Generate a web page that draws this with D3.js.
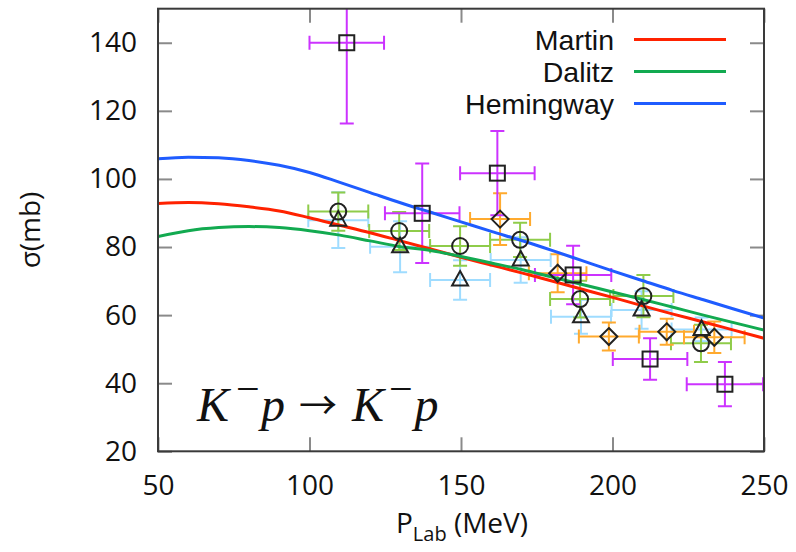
<!DOCTYPE html>
<html>
<head>
<meta charset="utf-8">
<script src="https://cdn.jsdelivr.net/npm/d3@7"></script>
<style>
  html, body { margin: 0; padding: 0; background: #fff; }
  svg { display: block; }
</style>
</head>
<body>
<svg id="chart" width="796" height="552" font-family="'Open Sans', 'Noto Sans', sans-serif"></svg>
<script>
// Axis ticks
const xTicks = [50, 100, 150, 200, 250];
const yTicks = [20, 40, 60, 80, 100, 120, 140];

// Model curves: lab momentum grid (MeV) and cross sections (mb)
const pGrid     = [50, 60, 70, 80, 90, 100, 110, 120, 130, 140, 150, 160, 170, 180, 190, 200, 210, 220, 230, 240, 250];
const martin    = [92.8, 93.1, 92.7, 91.8, 90.6, 88.6, 86.4, 84.2, 81.8, 79.4, 77.0, 74.7, 72.4, 70.0, 67.6, 65.2, 62.7, 60.3, 58.0, 55.6, 53.2];
const dalitz    = [83.1, 84.8, 85.7, 86.0, 85.7, 84.8, 83.5, 81.8, 80.1, 79.0, 77.2, 75.3, 73.4, 71.2, 69.0, 66.8, 64.6, 62.3, 60.0, 57.8, 55.6];
const hemingway = [105.9, 106.4, 106.2, 105.4, 104.0, 101.9, 99.0, 96.0, 93.0, 90.2, 87.4, 84.6, 81.9, 79.0, 76.0, 73.0, 70.1, 67.2, 64.5, 61.8, 59.1];
const curveNames  = ["Martin", "Dalitz", "Hemingway"];
const curveColors = ["#ff2200", "#12aa50", "#1f5cff"];

// Measurements (squares)
const sqX    = [112.3, 137.2, 162.0, 187.0, 212.4, 237.1];
const sqY    = [140.0, 89.9, 101.7, 71.8, 47.1, 39.7];
const sqXErr = [12.3, 12.3, 12.3, 12.6, 12.3, 12.6];
const sqYErr = [23.7, 14.6, 12.4, 8.6, 6.1, 6.5];

// Measurements (diamonds)
const diX    = [162.9, 181.9, 198.8, 217.9, 233.6];
const diY    = [88.2, 72.3, 53.7, 55.1, 53.5];
const diXErr = [9.9, 9.5, 9.9, 9.0, 10.0];
const diYErr = [7.6, 5.6, 4.1, 3.8, 4.6];

// Measurements (circles)
const ciX    = [109.5, 129.6, 149.7, 169.5, 189.3, 210.2, 229.2];
const ciY    = [90.4, 84.7, 80.3, 82.1, 64.7, 65.6, 51.7];
const ciXErr = [9.9, 9.9, 9.9, 9.9, 9.9, 9.9, 9.9];
const ciYErr = [5.6, 5.6, 5.8, 5.0, 5.4, 6.2, 5.5];

// Measurements (triangles)
const trX    = [109.5, 129.9, 149.7, 169.7, 189.6, 209.6, 229.4];
const trY    = [87.9, 80.1, 70.3, 76.2, 59.5, 61.5, 55.8];
const trXErr = [9.9, 9.9, 9.9, 9.9, 9.9, 9.9, 9.9];
const trYErr = [8.2, 7.5, 5.8, 6.7, 5.0, 5.5, 3.5];

const svg = d3.select("#chart");
const L = 158, R = 764, T = 8.7, B = 451.3;
const x = d3.scaleLinear().domain([50, 250]).range([L, R]);
const y = d3.scaleLinear().domain([20, 150]).range([B, T]);

svg.append("defs").append("clipPath").attr("id", "plotClip")
  .append("rect").attr("x", L).attr("y", T).attr("width", R - L).attr("height", B - T);

// Inward ticks on all four sides
const tickLen = 14;
const tickColor = "#8a8a8a";
const sansFont = "'Open Sans', 'Noto Sans', sans-serif";
const axes = svg.append("g");
axes.append("g").attr("transform", `translate(0,${B})`)
  .call(d3.axisBottom(x).tickValues(xTicks).tickSizeInner(-tickLen).tickSizeOuter(0).tickPadding(17))
  .call(g => g.select(".domain").remove())
  .call(g => g.selectAll("line").attr("stroke", tickColor).attr("stroke-width", 2))
  .call(g => g.selectAll("text").attr("font-size", 28).attr("fill", "#111")
    .attr("font-family", sansFont).attr("dy", "0.95em"));
axes.append("g").attr("transform", `translate(0,${T})`)
  .call(d3.axisTop(x).tickValues(xTicks).tickSizeInner(-tickLen).tickSizeOuter(0).tickFormat(""))
  .call(g => g.select(".domain").remove())
  .call(g => g.selectAll("line").attr("stroke", tickColor).attr("stroke-width", 2));
axes.append("g").attr("transform", `translate(${L},0)`)
  .call(d3.axisLeft(y).tickValues(yTicks).tickSizeInner(-tickLen).tickSizeOuter(0).tickPadding(21))
  .call(g => g.select(".domain").remove())
  .call(g => g.selectAll("line").attr("stroke", tickColor).attr("stroke-width", 2))
  .call(g => g.selectAll("text").attr("font-size", 28).attr("fill", "#111")
    .attr("font-family", sansFont));
axes.append("g").attr("transform", `translate(${R},0)`)
  .call(d3.axisRight(y).tickValues(yTicks).tickSizeInner(-tickLen).tickSizeOuter(0).tickFormat(""))
  .call(g => g.select(".domain").remove())
  .call(g => g.selectAll("line").attr("stroke", tickColor).attr("stroke-width", 2));

const plot = svg.append("g").attr("clip-path", "url(#plotClip)");

// Error bars
function errorBars(xs, ys, xe, ye, color) {
  const g = plot.append("g").attr("stroke", color).attr("stroke-width", 2).attr("fill", "none");
  const cap = 7;
  xs.forEach((xv, i) => {
    const cx = x(xv), cy = y(ys[i]);
    const x0 = x(xv - xe[i]), x1 = x(xv + xe[i]);
    const y0 = y(ys[i] - ye[i]), y1 = y(ys[i] + ye[i]);
    g.append("line").attr("x1", x0).attr("x2", x1).attr("y1", cy).attr("y2", cy);
    g.append("line").attr("x1", cx).attr("x2", cx).attr("y1", y0).attr("y2", y1);
    g.append("line").attr("x1", x0).attr("x2", x0).attr("y1", cy - cap).attr("y2", cy + cap);
    g.append("line").attr("x1", x1).attr("x2", x1).attr("y1", cy - cap).attr("y2", cy + cap);
    g.append("line").attr("x1", cx - cap).attr("x2", cx + cap).attr("y1", y0).attr("y2", y0);
    g.append("line").attr("x1", cx - cap).attr("x2", cx + cap).attr("y1", y1).attr("y2", y1);
  });
}
errorBars(trX, trY, trXErr, trYErr, "#9fdcff");
errorBars(ciX, ciY, ciXErr, ciYErr, "#8fcc4a");
errorBars(diX, diY, diXErr, diYErr, "#ffaa2e");
errorBars(sqX, sqY, sqXErr, sqYErr, "#cc33ff");

// Model curves
const series = [martin, dalitz, hemingway];
const line = d3.line().x(d => x(d[0])).y(d => y(d[1])).curve(d3.curveMonotoneX);
series.forEach((vals, k) => {
  plot.append("path")
    .datum(pGrid.map((p, i) => [p, vals[i]]))
    .attr("d", line)
    .attr("fill", "none")
    .attr("stroke", curveColors[k])
    .attr("stroke-width", 3);
});

// Point markers
function markers(xs, ys, type) {
  const g = plot.append("g").attr("stroke", "#222").attr("stroke-width", 2).attr("fill", "none");
  xs.forEach((xv, i) => {
    const cx = x(xv), cy = y(ys[i]);
    if (type === "square") {
      g.append("rect").attr("x", cx - 7.5).attr("y", cy - 7.5).attr("width", 15).attr("height", 15);
    } else if (type === "circle") {
      g.append("circle").attr("cx", cx).attr("cy", cy).attr("r", 8);
    } else if (type === "diamond") {
      g.append("path").attr("d", `M${cx},${cy - 8.5}L${cx + 8.5},${cy}L${cx},${cy + 8.5}L${cx - 8.5},${cy}Z`);
    } else {
      g.append("path").attr("d", `M${cx},${cy - 9}L${cx + 8},${cy + 5.5}L${cx - 8},${cy + 5.5}Z`);
    }
  });
}
markers(trX, trY, "triangle");
markers(ciX, ciY, "circle");
markers(diX, diY, "diamond");
markers(sqX, sqY, "square");

// Frame
svg.append("rect").attr("x", L).attr("y", T).attr("width", R - L).attr("height", B - T)
  .attr("fill", "none").attr("stroke", "#3a3a3a").attr("stroke-width", 2);

// Legend (compact-metric face so the stacked labels keep clear of each other)
const legend = svg.append("g");
curveNames.forEach((name, k) => {
  const ly = 39.5 + k * 32;
  legend.append("text").attr("x", 614).attr("y", ly).attr("dy", "0.36em")
    .attr("text-anchor", "end").attr("font-size", 28.5).attr("fill", "#111")
    .attr("font-family", "'Liberation Sans', Arial, sans-serif").text(name);
  legend.append("line").attr("x1", 634).attr("x2", 726).attr("y1", ly).attr("y2", ly)
    .attr("stroke", curveColors[k]).attr("stroke-width", 3);
});

// Axis titles
svg.append("text")
  .attr("transform", `translate(30,${(T + B) / 2}) rotate(-90)`)
  .attr("text-anchor", "middle").attr("dy", "0.35em").attr("font-size", 28).attr("fill", "#111")
  .text("σ(mb)");
const xl = svg.append("text").attr("x", 462).attr("y", 533).attr("text-anchor", "middle")
  .attr("font-size", 28).attr("fill", "#111");
xl.append("tspan").text("P");
xl.append("tspan").attr("font-size", 20).attr("dy", 8).text("Lab");
xl.append("tspan").attr("dy", -8).text(" (MeV)");

// Reaction label, typeset piece by piece in a serif math style
const rx = svg.append("g").attr("font-family", "'Liberation Serif', 'DejaVu Serif', serif").attr("fill", "#111");
const base = 421;
function put(txt, xp, yp, size, italic, family) {
  const t = rx.append("text").attr("x", xp).attr("y", yp).attr("font-size", size)
    .attr("font-style", italic ? "italic" : "normal").text(txt);
  if (family) t.attr("font-family", family);
}
put("K", 197, base, 48, true);
put("−", 236, 403, 42, false);
put("p", 261, base, 48, true);
put("→", 299, 419, 38, false, "'Noto Sans CJK JP', 'DejaVu Serif', serif");
put("K", 352, base, 48, true);
put("−", 389, 403, 42, false);
put("p", 414.5, base, 48, true);
</script>
</body>
</html>
